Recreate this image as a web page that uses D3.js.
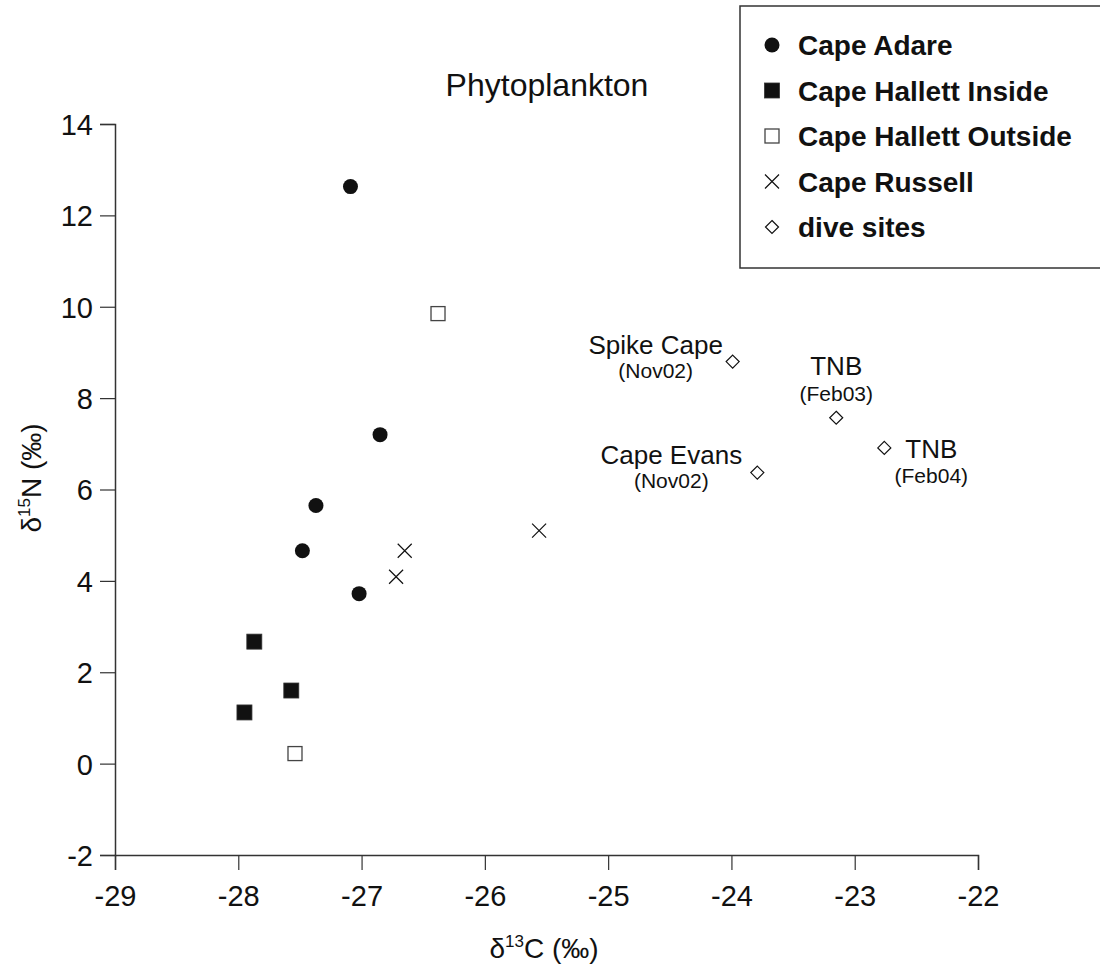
<!DOCTYPE html>
<html>
<head>
<meta charset="utf-8">
<script src="https://cdn.jsdelivr.net/npm/d3@7"></script>
<style>
  html, body { margin: 0; padding: 0; background: #fff; }
  svg { display: block; font-family: "Liberation Sans", Arial, sans-serif; }
</style>
</head>
<body>
<svg id="chart" width="1100" height="969"></svg>
<script>
// ---- data ----
const capeAdare = [
  { x: -27.09, y: 12.63 },
  { x: -26.85, y: 7.20 },
  { x: -27.37, y: 5.65 },
  { x: -27.48, y: 4.66 },
  { x: -27.02, y: 3.72 }
];
const hallettInside = [
  { x: -27.87, y: 2.67 },
  { x: -27.57, y: 1.60 },
  { x: -27.95, y: 1.12 }
];
const hallettOutside = [
  { x: -26.38, y: 9.85 },
  { x: -27.54, y: 0.22 }
];
const capeRussell = [
  { x: -26.65, y: 4.66 },
  { x: -26.72, y: 4.09 },
  { x: -25.56, y: 5.10 }
];
const diveSites = [
  { x: -23.99, y: 8.80, name: "Spike Cape", date: "(Nov02)" },
  { x: -23.15, y: 7.57, name: "TNB", date: "(Feb03)" },
  { x: -22.76, y: 6.91, name: "TNB", date: "(Feb04)" },
  { x: -23.79, y: 6.37, name: "Cape Evans", date: "(Nov02)" }
];
const xTicks = [-29, -28, -27, -26, -25, -24, -23, -22];
const yTicks = [-2, 0, 2, 4, 6, 8, 10, 12, 14];
const legendLabels = ["Cape Adare", "Cape Hallett Inside", "Cape Hallett Outside", "Cape Russell", "dive sites"];
const legendKinds = ["circle", "fsquare", "osquare", "cross", "diamond"];

// ---- layout ----
const svg = d3.select("#chart");
const x = d3.scaleLinear().domain([-29, -22]).range([115, 978]);
const y = d3.scaleLinear().domain([-2, 14]).range([855, 124]);
const ink = "#111";
const axisCol = "#333";
const fmt = d => String(d); // plain hyphen-minus like the reference

// label offsets for dive sites (styling, relative to point)
const annot = {
  "Spike Cape(Nov02)": { name: [-77, -8], date: [-77, 16] },
  "TNB(Feb03)": { name: [0, -43], date: [0, -17] },
  "TNB(Feb04)": { name: [47, 10], date: [47, 35] },
  "Cape Evans(Nov02)": { name: [-86, -9], date: [-86, 15] }
};

// axes
const xAxis = d3.axisBottom(x).tickValues(xTicks).tickSize(15).tickPadding(15).tickFormat(fmt);
const yAxis = d3.axisLeft(y).tickValues(yTicks).tickSize(15).tickPadding(7).tickFormat(fmt);

const gx = svg.append("g").attr("transform", `translate(0,${y(-2)})`).call(xAxis);
const gy = svg.append("g").attr("transform", `translate(${x(-29)},0)`).call(yAxis);
[gx, gy].forEach(g => {
  g.select(".domain").attr("stroke", axisCol).attr("stroke-width", 1.5);
  g.selectAll(".tick line").attr("stroke", axisCol).attr("stroke-width", 1.2);
  g.selectAll(".tick text").attr("fill", ink).style("font-size", "29px")
    .style("font-family", '"Liberation Sans", Arial, sans-serif');
});
gy.selectAll(".tick text").attr("dy", "0.36em");

// symbols
function drawSymbol(sel, kind) {
  if (kind === "circle") {
    sel.append("circle").attr("r", 7.5).attr("fill", ink);
  } else if (kind === "fsquare") {
    sel.append("rect").attr("x", -7.5).attr("y", -7.5).attr("width", 15).attr("height", 15)
      .attr("fill", ink).attr("stroke", "#333").attr("stroke-width", 0.8);
  } else if (kind === "osquare") {
    sel.append("rect").attr("x", -7).attr("y", -7).attr("width", 14).attr("height", 14)
      .attr("fill", "#fff").attr("stroke", "#444").attr("stroke-width", 1.3);
  } else if (kind === "cross") {
    sel.append("path").attr("d", "M-7,-7L7,7M-7,7L7,-7").attr("stroke", ink)
      .attr("stroke-width", 1.2).attr("fill", "none");
  } else if (kind === "diamond") {
    sel.append("path").attr("d", "M0,-6.5L6.5,0L0,6.5L-6.5,0Z").attr("stroke", ink)
      .attr("stroke-width", 1.2).attr("fill", "#fff");
  }
}

const seriesList = [
  [capeAdare, "circle"],
  [hallettInside, "fsquare"],
  [hallettOutside, "osquare"],
  [capeRussell, "cross"],
  [diveSites, "diamond"]
];
seriesList.forEach(([data, kind]) => {
  svg.append("g").selectAll("g").data(data).join("g")
    .attr("transform", d => `translate(${x(d.x)},${y(d.y)})`)
    .each(function () { drawSymbol(d3.select(this), kind); });
});

// dive site annotations
const ag = svg.append("g").attr("fill", ink);
diveSites.forEach(d => {
  const o = annot[d.name + d.date];
  ag.append("text").attr("x", x(d.x) + o.name[0]).attr("y", y(d.y) + o.name[1])
    .attr("text-anchor", "middle").style("font-size", "26px").text(d.name);
  ag.append("text").attr("x", x(d.x) + o.date[0]).attr("y", y(d.y) + o.date[1])
    .attr("text-anchor", "middle").style("font-size", "21px").text(d.date);
});

// title
svg.append("text").attr("x", 547).attr("y", 96).attr("text-anchor", "middle")
  .attr("fill", ink).style("font-size", "32px").text("Phytoplankton");

// x label
const xl = svg.append("text").attr("x", 544).attr("y", 958).attr("text-anchor", "middle")
  .attr("fill", ink).style("font-size", "28px");
xl.append("tspan").text("δ");
xl.append("tspan").attr("dy", -11).style("font-size", "17px").text("13");
xl.append("tspan").attr("dy", 11).text("C (‰)");

// y label
const yl = svg.append("text").attr("transform", "translate(41,478) rotate(-90)")
  .attr("text-anchor", "middle").attr("fill", ink).style("font-size", "28px");
yl.append("tspan").text("δ");
yl.append("tspan").attr("dy", -11).style("font-size", "17px").text("15");
yl.append("tspan").attr("dy", 11).text("N (‰)");

// legend
const lg = svg.append("g");
lg.append("rect").attr("x", 740).attr("y", 6).attr("width", 400).attr("height", 262)
  .attr("fill", "#fff").attr("stroke", axisCol).attr("stroke-width", 1.5);
const rowY = d3.scalePoint().domain(legendLabels).range([45, 227]);
legendLabels.forEach((lab, i) => {
  const g = lg.append("g").attr("transform", `translate(772,${rowY(lab)})`);
  drawSymbol(g, legendKinds[i]);
  lg.append("text").attr("x", 798).attr("y", rowY(lab) + 10).attr("fill", ink)
    .style("font-size", "28px").style("font-weight", "bold").text(lab);
});
</script>
</body>
</html>
